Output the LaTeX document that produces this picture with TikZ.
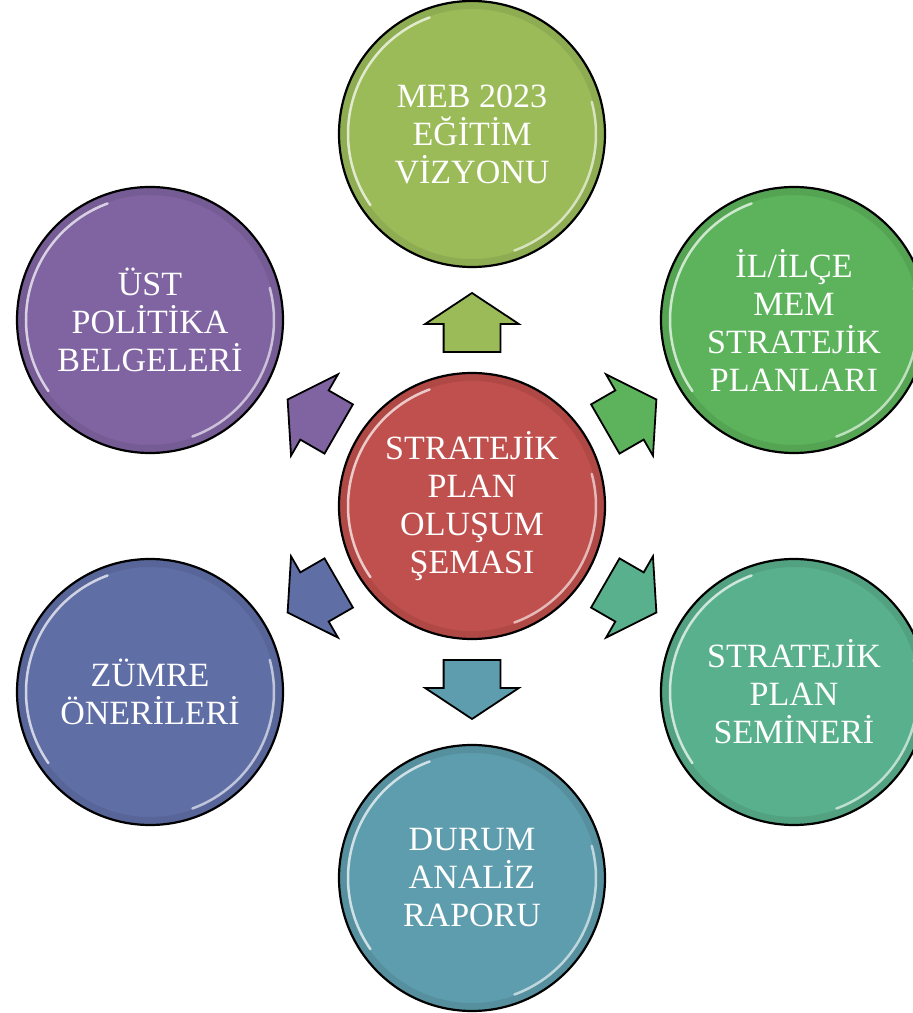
\documentclass[tikz,border=0pt]{standalone}
\usepackage{fontspec}
\setmainfont{Liberation Serif}
\usetikzlibrary{shapes,arrows,calc}

\definecolor{olive}{HTML}{9BBB59}
\definecolor{ilgreen}{HTML}{5CB35C}
\definecolor{semgreen}{HTML}{59B08C}
\definecolor{durumblue}{HTML}{5E9DAD}
\definecolor{zumblue}{HTML}{606EA6}
\definecolor{ustpurple}{HTML}{8064A2}
\definecolor{centred}{HTML}{C0504D}

\tikzset{
  ball/.style={circle, draw = black, line width=2.2pt, minimum size=266pt, inner sep=0pt,
    text=white, align=center, font=\fontsize{34}{38}\selectfont,
    path picture={
      \draw[black, opacity=.08, line width=8pt] (path picture bounding box.center) circle (129pt);
      \draw[white, opacity=.7, line width=2.5pt, line cap=round] (path picture bounding box.center) ++(110:124pt) arc (110:215:124pt);
      \draw[white, opacity=.6, line width=2.5pt, line cap=round] (path picture bounding box.center) ++(-70:124pt) arc (-70:15:124pt);
    }},
  blockarrow/.style={single arrow, draw = black, line width=1.8pt, minimum height=59pt,
    inner xsep=0pt, inner ysep=27.5pt, single arrow head extend=18.5pt, single arrow tip angle=113}
}

\begin{document}
\begin{tikzpicture}[x=1pt, y=1pt]
		\useasboundingbox (0,0) rectangle (913,1013);
		
		\node (c)[ball, fill = centred] at (472,507) {STRATEJİK\\PLAN\\OLUŞUM\\ŞEMASI};
		
		\node (meb)[ball, fill = olive] at (472,879) {MEB 2023\\EĞİTİM\\VİZYONU};
		\node (il)[ball, fill = ilgreen] at (794,693) {İL/İLÇE\\MEM\\STRATEJİK\\PLANLARI};
		\node (sem)[ball, fill = semgreen] at (794,321) {STRATEJİK\\PLAN\\SEMİNERİ};
		\node (dur)[ball, fill = durumblue] at (472,135) {DURUM\\ANALİZ\\RAPORU};
		\node (zum)[ball, fill = zumblue] at (150,321) {ZÜMRE\\ÖNERİLERİ};
		\node (ust)[ball, fill = ustpurple] at (150,693) {ÜST\\POLİTİKA\\BELGELERİ};
		
		\node (a1)[blockarrow, fill = olive, rotate=90] at ($(c)!0.468!(meb)$) {};
		\node (a2)[blockarrow, fill = ilgreen, rotate=30] at ($(c)!0.468!(il)$) {};
		\node (a3)[blockarrow, fill = semgreen, rotate=-30] at ($(c)!0.468!(sem)$) {};
		\node (a4)[blockarrow, fill = durumblue, rotate=-90] at ($(c)!0.468!(dur)$) {};
		\node (a5)[blockarrow, fill = zumblue, rotate=210] at ($(c)!0.468!(zum)$) {};
		\node (a6)[blockarrow, fill = ustpurple, rotate=150] at ($(c)!0.468!(ust)$) {};
	\end{tikzpicture}
\end{document}
